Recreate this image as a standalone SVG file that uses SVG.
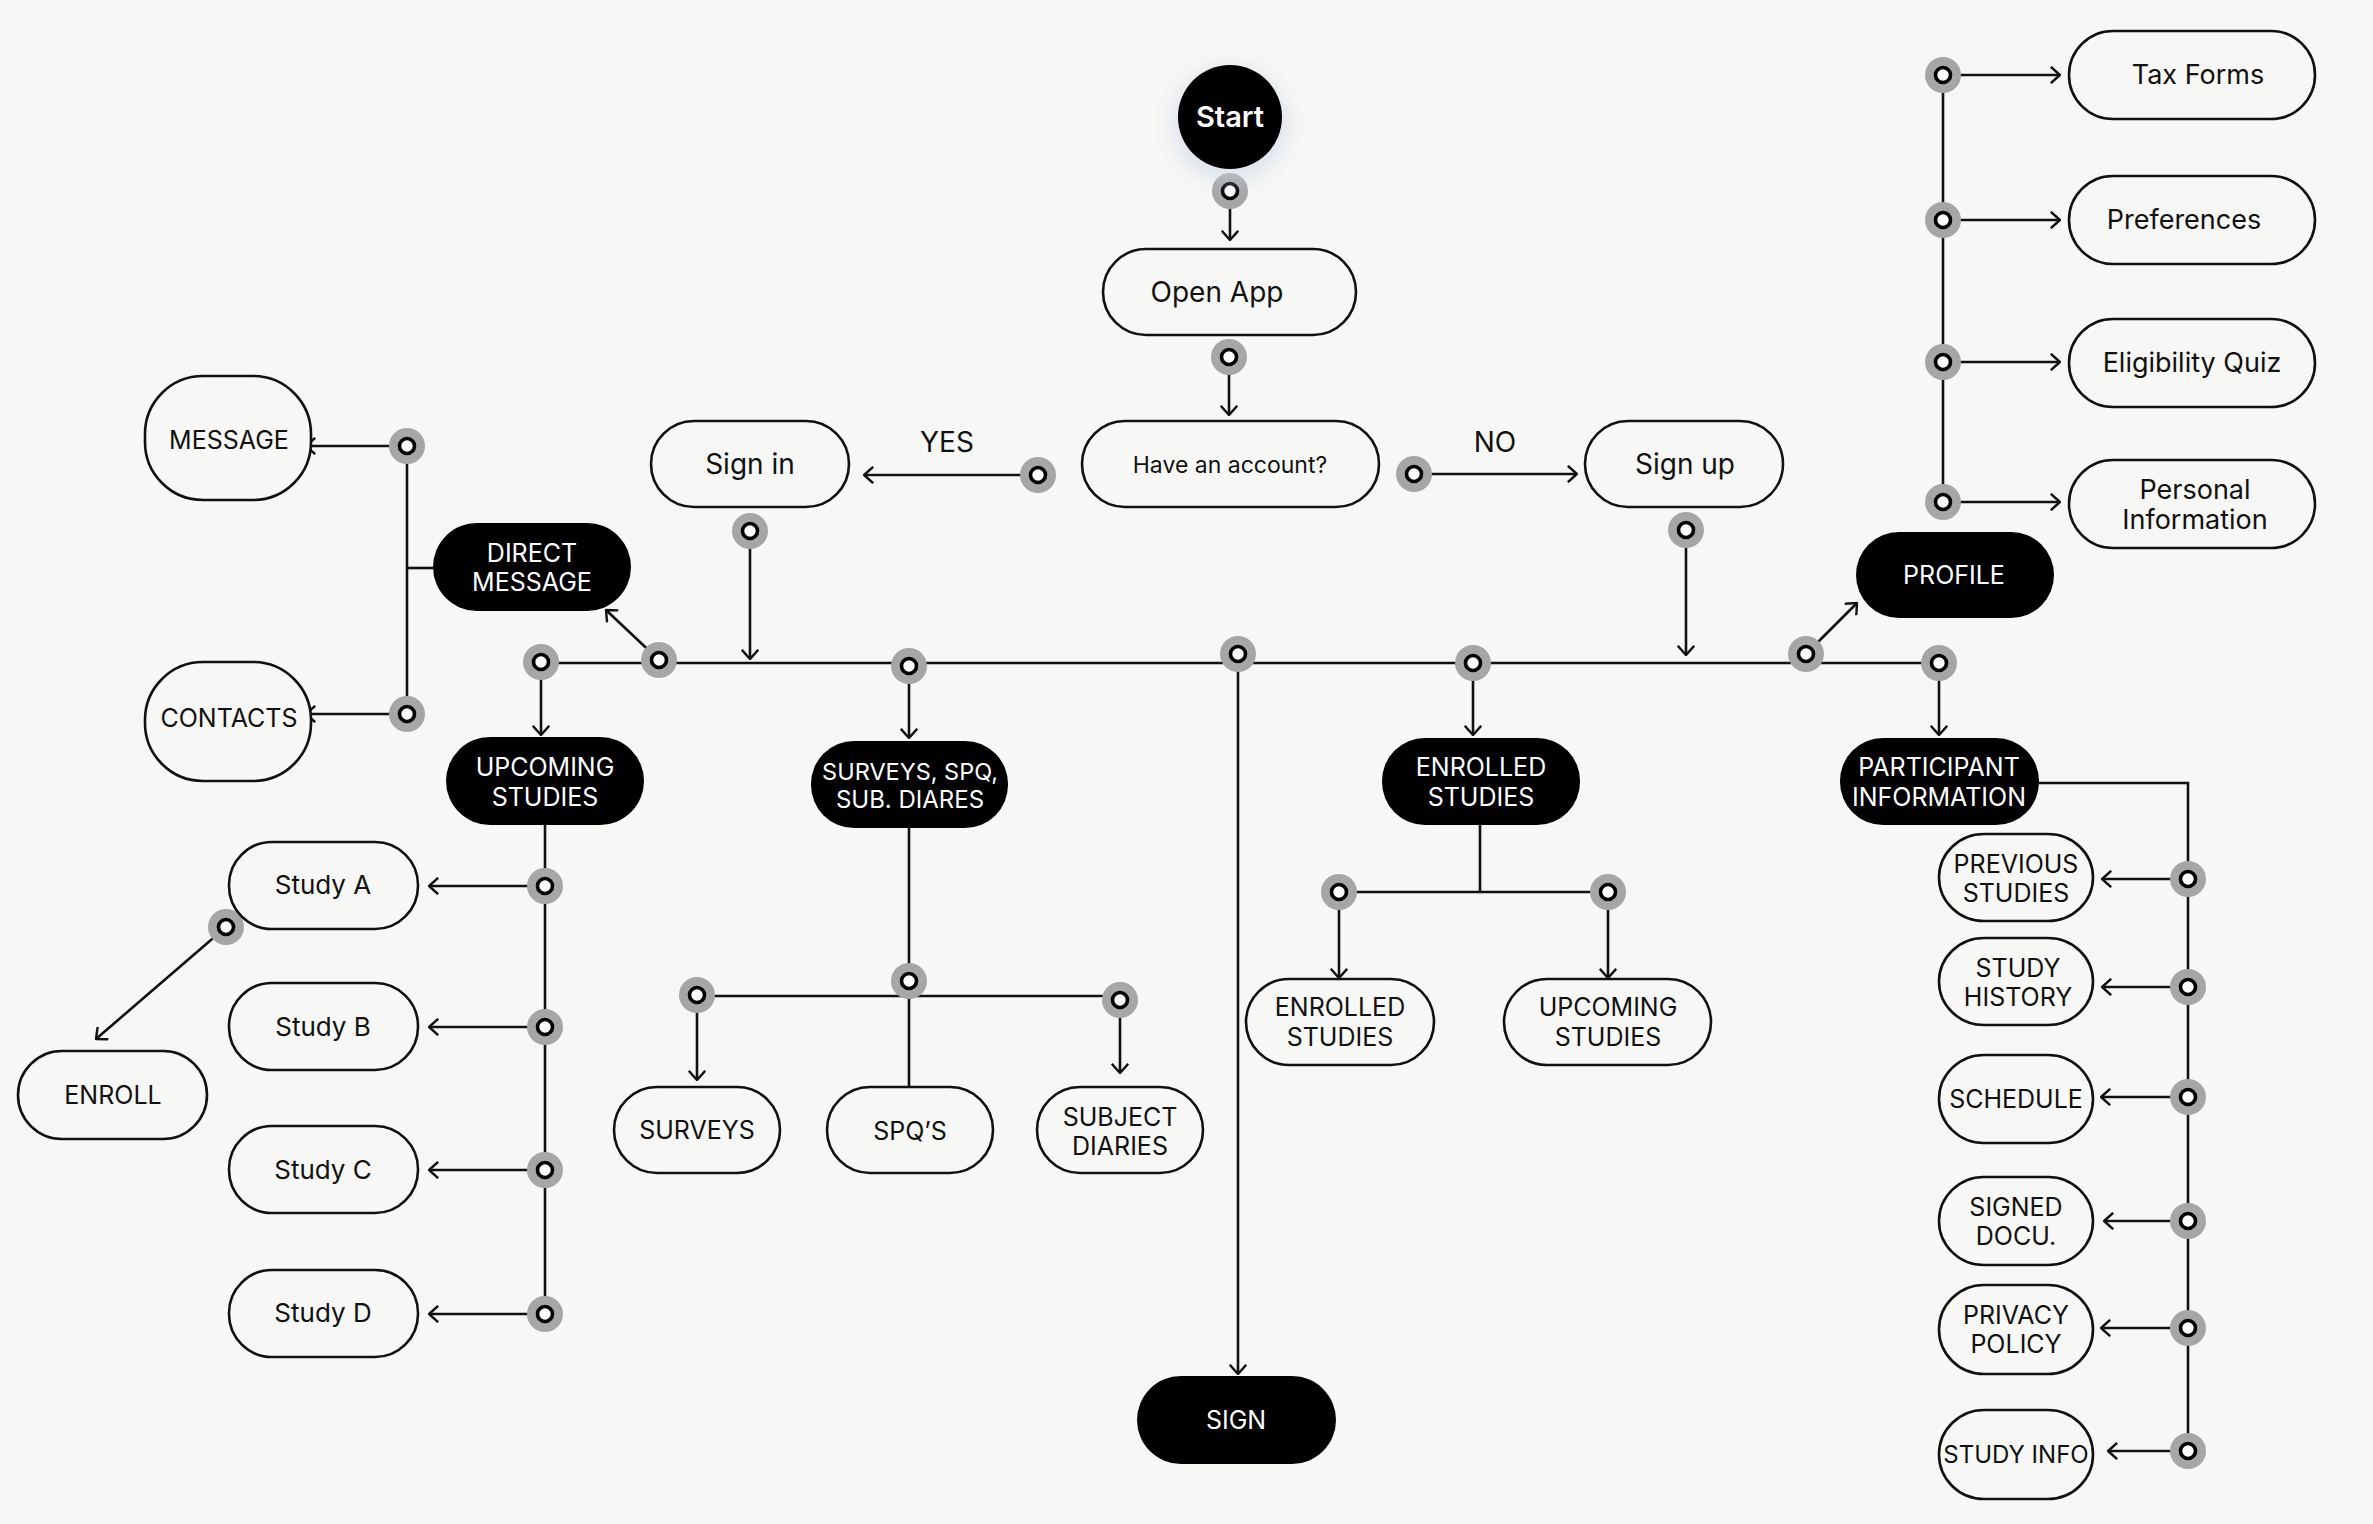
<svg xmlns="http://www.w3.org/2000/svg" width="2373" height="1524" viewBox="0 0 2373 1524">
<defs>
<style>
.bg{fill:#f7f7f5}
.w{fill:#f7f7f5;stroke:#111;stroke-width:2.6}
.b{fill:#000}
text{font-family:Inter,'Liberation Sans',sans-serif;text-anchor:middle}
.tw{fill:#fff;font-size:25px}
.tk{fill:#111;font-size:25px}
.tm{fill:#111;font-size:27px}
.ln{fill:none;stroke:#111;stroke-width:2.6}
.ar{fill:none;stroke:#111;stroke-width:2.6;marker-end:url(#ah)}
.halo{fill:#a6a6a6}
.pt{fill:#fff;stroke:#000;stroke-width:3.6}
</style>
<marker id="ah" viewBox="0 0 11 18" markerWidth="11" markerHeight="18" refX="10" refY="9" orient="auto" markerUnits="userSpaceOnUse">
<path d="M0.8,0.8 L10,9 L0.8,17.2" fill="none" stroke="#111" stroke-width="2.4"/>
</marker>
<symbol id="dot" overflow="visible"><circle r="18" class="halo"/><circle r="7.5" class="pt"/></symbol>
<filter id="glow" x="-50%" y="-50%" width="200%" height="200%"><feGaussianBlur stdDeviation="9"/></filter>
</defs>
<rect width="2373" height="1524" class="bg"/>

<g id="connectors">
<line class="ar" x1="1230" y1="191" x2="1230" y2="240"/>
<line class="ar" x1="1229" y1="357" x2="1229" y2="415"/>
<line class="ar" x1="1038" y1="475" x2="864" y2="475"/>
<line class="ar" x1="1414" y1="474" x2="1577" y2="474"/>
<line class="ar" x1="750" y1="531" x2="750" y2="659"/>
<line class="ar" x1="1686" y1="530" x2="1686" y2="655"/>
<line class="ln" x1="541" y1="663" x2="1939" y2="663"/>
<line class="ar" x1="659" y1="660" x2="606" y2="610"/>
<line class="ar" x1="541" y1="662" x2="541" y2="735"/>
<line class="ar" x1="909" y1="666" x2="909" y2="738"/>
<line class="ar" x1="1238" y1="654" x2="1238" y2="1374"/>
<line class="ar" x1="1473" y1="663" x2="1473" y2="735"/>
<line class="ar" x1="1806" y1="654" x2="1857" y2="603"/>
<line class="ar" x1="1939" y1="663" x2="1939" y2="735"/>
<!-- direct message branch -->
<line class="ln" x1="433" y1="568" x2="407" y2="568"/>
<line class="ln" x1="407" y1="446" x2="407" y2="714"/>
<line class="ar" x1="407" y1="446" x2="306" y2="446"/>
<line class="ar" x1="407" y1="714" x2="306" y2="714"/>
<!-- upcoming branch -->
<line class="ln" x1="545" y1="825" x2="545" y2="1314"/>
<line class="ar" x1="545" y1="886" x2="429" y2="886"/>
<line class="ar" x1="545" y1="1027" x2="429" y2="1027"/>
<line class="ar" x1="545" y1="1170" x2="429" y2="1170"/>
<line class="ar" x1="545" y1="1314" x2="429" y2="1314"/>
<line class="ar" x1="226" y1="927" x2="96" y2="1039"/>
<!-- surveys branch -->
<line class="ln" x1="909" y1="828" x2="909" y2="1087"/>
<line class="ln" x1="697" y1="996" x2="1120" y2="996"/>
<line class="ar" x1="697" y1="995" x2="697" y2="1080"/>
<line class="ar" x1="1120" y1="1000" x2="1120" y2="1073"/>
<!-- enrolled branch -->
<line class="ln" x1="1480" y1="825" x2="1480" y2="892"/>
<line class="ln" x1="1339" y1="892" x2="1608" y2="892"/>
<line class="ar" x1="1339" y1="892" x2="1339" y2="978"/>
<line class="ar" x1="1608" y1="892" x2="1608" y2="978"/>
<!-- participant branch -->
<polyline class="ln" points="2039,783 2188,783 2188,1451"/>
<line class="ar" x1="2188" y1="879" x2="2102" y2="879"/>
<line class="ar" x1="2188" y1="987" x2="2102" y2="987"/>
<line class="ar" x1="2188" y1="1097" x2="2101" y2="1097"/>
<line class="ar" x1="2188" y1="1221" x2="2104" y2="1221"/>
<line class="ar" x1="2188" y1="1328" x2="2101" y2="1328"/>
<line class="ar" x1="2188" y1="1451" x2="2108" y2="1451"/>
<!-- profile branch -->
<line class="ln" x1="1943" y1="75" x2="1943" y2="502"/>
<line class="ar" x1="1943" y1="75" x2="2060" y2="75"/>
<line class="ar" x1="1943" y1="220" x2="2060" y2="220"/>
<line class="ar" x1="1943" y1="362" x2="2060" y2="362"/>
<line class="ar" x1="1943" y1="502" x2="2060" y2="502"/>
<!-- ports -->
<use href="#dot" x="1230" y="191"/>
<use href="#dot" x="1229" y="357"/>
<use href="#dot" x="1038" y="475"/>
<use href="#dot" x="1414" y="474"/>
<use href="#dot" x="750" y="531"/>
<use href="#dot" x="1686" y="530"/>
<use href="#dot" x="659" y="660"/>
<use href="#dot" x="541" y="662"/>
<use href="#dot" x="909" y="666"/>
<use href="#dot" x="1238" y="654"/>
<use href="#dot" x="1473" y="663"/>
<use href="#dot" x="1806" y="654"/>
<use href="#dot" x="1939" y="663"/>
<use href="#dot" x="407" y="446"/>
<use href="#dot" x="407" y="714"/>
<use href="#dot" x="545" y="886"/>
<use href="#dot" x="545" y="1027"/>
<use href="#dot" x="545" y="1170"/>
<use href="#dot" x="545" y="1314"/>
<use href="#dot" x="226" y="927"/>
<use href="#dot" x="909" y="981"/>
<use href="#dot" x="697" y="995"/>
<use href="#dot" x="1120" y="1000"/>
<use href="#dot" x="1339" y="892"/>
<use href="#dot" x="1608" y="892"/>
<use href="#dot" x="2188" y="879"/>
<use href="#dot" x="2188" y="987"/>
<use href="#dot" x="2188" y="1097"/>
<use href="#dot" x="2188" y="1221"/>
<use href="#dot" x="2188" y="1328"/>
<use href="#dot" x="2188" y="1451"/>
<use href="#dot" x="1943" y="75"/>
<use href="#dot" x="1943" y="220"/>
<use href="#dot" x="1943" y="362"/>
<use href="#dot" x="1943" y="502"/>
<text class="tm" x="947" y="452" style="font-size:28px">YES</text>
<text class="tm" x="1495" y="452" style="font-size:28px">NO</text>
</g>

<g id="start">
<circle cx="1230" cy="124" r="58" fill="#c9d6e6" opacity="0.55" filter="url(#glow)"/>
<circle cx="1230" cy="117" r="52" class="b"/>
<text x="1230" y="127" fill="#fff" style="font-size:29px;font-weight:600">Start</text>
</g>
<g id="open-app"><rect x="1103" y="249" width="253" height="86" rx="43" class="w"/><text class="tm" x="1217" y="302" style="font-size:28px">Open App</text></g>
<g id="have-account"><rect x="1082" y="421" width="297" height="86" rx="43" class="w"/><text class="tk" x="1230" y="473" style="font-size:23px">Have an account?</text></g>
<g id="sign-in"><rect x="651" y="421" width="198" height="86" rx="43" class="w"/><text class="tm" x="750" y="474" style="font-size:28px">Sign in</text></g>
<g id="sign-up"><rect x="1585" y="421" width="198" height="86" rx="43" class="w"/><text class="tm" x="1685" y="474" style="font-size:28px">Sign up</text></g>

<g id="message"><rect x="145" y="376" width="166" height="124" rx="58" class="w"/><text class="tk" x="229" y="449">MESSAGE</text></g>
<g id="contacts"><rect x="145" y="662" width="166" height="119" rx="58" class="w"/><text class="tk" x="229" y="727">CONTACTS</text></g>
<g id="direct-message"><rect x="433" y="523" width="198" height="88" rx="44" class="b"/><text class="tw" x="532" y="562">DIRECT</text><text class="tw" x="532" y="591">MESSAGE</text></g>

<g id="upcoming-studies"><rect x="446" y="737" width="198" height="88" rx="44" class="b"/><text class="tw" x="545" y="776">UPCOMING</text><text class="tw" x="545" y="806">STUDIES</text></g>
<g id="surveys-group"><rect x="811" y="741" width="197" height="87" rx="43" class="b"/><text class="tw" x="910" y="780" style="font-size:23.5px">SURVEYS, SPQ,</text><text class="tw" x="910" y="808" style="font-size:24px">SUB. DIARES</text></g>
<g id="enrolled-studies"><rect x="1382" y="738" width="198" height="87" rx="43" class="b"/><text class="tw" x="1481" y="776">ENROLLED</text><text class="tw" x="1481" y="806">STUDIES</text></g>
<g id="profile"><rect x="1856" y="532" width="198" height="86" rx="43" class="b"/><text class="tw" x="1954" y="584">PROFILE</text></g>
<g id="participant-information"><rect x="1840" y="738" width="199" height="87" rx="43" class="b"/><text class="tw" x="1939" y="776">PARTICIPANT</text><text class="tw" x="1939" y="806">INFORMATION</text></g>
<g id="sign"><rect x="1137" y="1376" width="199" height="88" rx="44" class="b"/><text class="tw" x="1236" y="1429">SIGN</text></g>

<g id="study-a"><rect x="229" y="842" width="189" height="87" rx="43" class="w"/><text class="tm" x="323" y="894" style="font-size:26px">Study A</text></g>
<g id="study-b"><rect x="229" y="983" width="189" height="87" rx="43" class="w"/><text class="tm" x="323" y="1036" style="font-size:26px">Study B</text></g>
<g id="study-c"><rect x="229" y="1126" width="189" height="87" rx="43" class="w"/><text class="tm" x="323" y="1179" style="font-size:26px">Study C</text></g>
<g id="study-d"><rect x="229" y="1270" width="189" height="87" rx="43" class="w"/><text class="tm" x="323" y="1322" style="font-size:26px">Study D</text></g>
<g id="enroll"><rect x="18" y="1051" width="189" height="88" rx="44" class="w"/><text class="tk" x="113" y="1104">ENROLL</text></g>

<g id="surveys"><rect x="614" y="1087" width="166" height="86" rx="43" class="w"/><text class="tk" x="697" y="1139">SURVEYS</text></g>
<g id="spqs"><rect x="827" y="1087" width="166" height="86" rx="43" class="w"/><text class="tk" x="910" y="1140">SPQ’S</text></g>
<g id="subject-diaries"><rect x="1037" y="1087" width="166" height="86" rx="43" class="w"/><text class="tk" x="1120" y="1126">SUBJECT</text><text class="tk" x="1120" y="1155">DIARIES</text></g>

<g id="enrolled-studies-2"><rect x="1246" y="979" width="188" height="86" rx="43" class="w"/><text class="tk" x="1340" y="1016">ENROLLED</text><text class="tk" x="1340" y="1046">STUDIES</text></g>
<g id="upcoming-studies-2"><rect x="1504" y="979" width="207" height="86" rx="43" class="w"/><text class="tk" x="1608" y="1016">UPCOMING</text><text class="tk" x="1608" y="1046">STUDIES</text></g>

<g id="tax-forms"><rect x="2069" y="31" width="246" height="88" rx="44" class="w"/><text class="tm" x="2198" y="84">Tax Forms</text></g>
<g id="preferences"><rect x="2069" y="176" width="246" height="88" rx="44" class="w"/><text class="tm" x="2184" y="229">Preferences</text></g>
<g id="eligibility-quiz"><rect x="2069" y="319" width="246" height="88" rx="44" class="w"/><text class="tm" x="2192" y="372">Eligibility Quiz</text></g>
<g id="personal-information"><rect x="2069" y="460" width="246" height="88" rx="44" class="w"/><text class="tm" x="2195" y="499">Personal</text><text class="tm" x="2195" y="529">Information</text></g>

<g id="previous-studies"><rect x="1939" y="834" width="154" height="87" rx="45" class="w"/><text class="tk" x="2016" y="873">PREVIOUS</text><text class="tk" x="2016" y="902">STUDIES</text></g>
<g id="study-history"><rect x="1939" y="938" width="154" height="87" rx="45" class="w"/><text class="tk" x="2018" y="977">STUDY</text><text class="tk" x="2018" y="1006">HISTORY</text></g>
<g id="schedule"><rect x="1939" y="1055" width="154" height="88" rx="45" class="w"/><text class="tk" x="2016" y="1108">SCHEDULE</text></g>
<g id="signed-docu"><rect x="1939" y="1177" width="154" height="88" rx="45" class="w"/><text class="tk" x="2016" y="1216">SIGNED</text><text class="tk" x="2016" y="1245">DOCU.</text></g>
<g id="privacy-policy"><rect x="1939" y="1285" width="154" height="89" rx="45" class="w"/><text class="tk" x="2016" y="1324">PRIVACY</text><text class="tk" x="2016" y="1353">POLICY</text></g>
<g id="study-info"><rect x="1939" y="1410" width="154" height="89" rx="45" class="w"/><text class="tk" x="2016" y="1463" style="font-size:24px">STUDY INFO</text></g>
</svg>
